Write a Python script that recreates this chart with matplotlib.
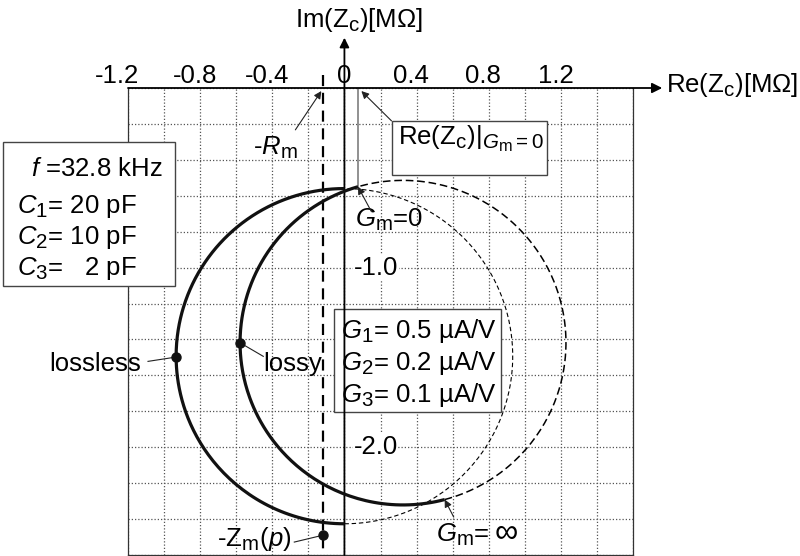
import numpy as np
import matplotlib
matplotlib.use("Agg")
import matplotlib.pyplot as plt
import matplotlib._mathtext as _mathtext
from matplotlib.patches import Rectangle
from matplotlib.ticker import MultipleLocator

plt.rcParams["font.family"] = ["Liberation Sans", "DejaVu Sans"]
plt.rcParams["mathtext.fontset"] = "custom"
plt.rcParams["mathtext.rm"] = "Liberation Sans"
plt.rcParams["mathtext.it"] = "Liberation Sans:italic"
plt.rcParams["mathtext.bf"] = "Liberation Sans:bold"
# slightly larger subscripts
_mathtext.SHRINK_FACTOR = 0.8

# Circuit parameters (pF, uA/V, kHz)
freq_khz = 32.8
C1, C2, C3 = 20.0, 10.0, 2.0
G1, G2, G3 = 0.5, 0.2, 0.1
Rm = 0.12            # motional resistance [MOhm]
Zm_imag = -2.49      # -Zm(p) imaginary part [MOhm]

x_tick_values = [-1.2, -0.8, -0.4, 0.0, 0.4, 0.8, 1.2]
x_tick_labels = ["-1.2", "-0.8", "-0.4", "0", "0.4", "0.8", "1.2"]
y_tick_values = [-1.0, -2.0]
y_tick_labels = ["-1.0", "-2.0"]

omega = 2 * np.pi * freq_khz * 1e3


def zc(gm, g1, g2, g3):
    """Impedance seen by the resonator [MOhm]; admittances in uS."""
    y1 = g1 + 1j * omega * C1 * 1e-6
    y2 = g2 + 1j * omega * C2 * 1e-6
    y3 = g3 + 1j * omega * C3 * 1e-6
    num = y1 + y2 + gm
    return num / (y1 * y2 + y3 * num)


def locus(g1, g2, g3):
    y3 = g3 + 1j * omega * C3 * 1e-6
    z_inf = 1 / y3
    th_pos = np.linspace(0, np.pi / 2, 600)[:-1]
    th_neg = np.linspace(-np.pi / 2, 0, 600)[1:]
    pos = np.append(zc(5.0 * np.tan(th_pos), g1, g2, g3), z_inf)
    neg = np.insert(zc(5.0 * np.tan(th_neg), g1, g2, g3), 0, z_inf)
    return pos, neg


lossless_pos, lossless_neg = locus(0.0, 0.0, 0.0)
lossy_pos, lossy_neg = locus(G1, G2, G3)

fig = plt.figure(figsize=(8, 5.56), dpi=100)
ax = fig.add_axes([128 / 800, 1 / 556, 505 / 800, 467 / 556])
ax.set_xlim(-1.2, 1.6)
ax.set_ylim(-2.6, 0)

ax.xaxis.set_major_locator(MultipleLocator(0.2))
ax.yaxis.set_major_locator(MultipleLocator(0.2))
ax.grid(True, linestyle=(0, (1, 1.6)), color="#555555", linewidth=0.9, zorder=0)
ax.tick_params(length=0, labelbottom=False, labelleft=False)
ax.spines["top"].set_visible(False)
for side in ("left", "right", "bottom"):
    ax.spines[side].set_color("#333333")
    ax.spines[side].set_linewidth(0.9)

# axes with arrows
ax.annotate("", xy=(1.762, 0), xytext=(-1.2, 0), annotation_clip=False,
            arrowprops=dict(arrowstyle="-|>", lw=1.3, color="black",
                            mutation_scale=15, shrinkA=0, shrinkB=0), zorder=5)
ax.annotate("", xy=(0, 0.28), xytext=(0, -2.6), annotation_clip=False,
            arrowprops=dict(arrowstyle="-|>", lw=1.3, color="black",
                            mutation_scale=14, shrinkA=0, shrinkB=0), zorder=5)

fs = 18.5
for xv, lab in zip(x_tick_values, x_tick_labels):
    shift = 0 if xv == 0 else (-0.06 if xv < -1 else -0.03)
    ax.text(xv + shift, 0.028, lab, ha="center", va="baseline", fontsize=fs)
for yv, lab in zip(y_tick_values, y_tick_labels):
    ax.text(0.05, yv, lab, ha="left", va="center", fontsize=fs, zorder=3,
            bbox=dict(facecolor="white", edgecolor="none", pad=0.5))

ax.text(1.783, -0.022, r"Re(Z$_\mathrm{c}$)[MΩ]", ha="left", va="baseline",
        fontsize=fs, clip_on=False)
ax.text(0.078, 0.339, r"Im(Z$_\mathrm{c}$)[MΩ]", ha="center", va="baseline",
        fontsize=fs, clip_on=False)

# -Rm line
ax.plot([-Rm, -Rm], [0.072, -2.6], color="black", lw=1.6,
        linestyle=(0, (5, 3)), clip_on=False, zorder=4)

# Re(Zc) at Gm = 0 marker line
z0 = lossy_pos[0]
ax.plot([z0.real, z0.real], [0, z0.imag], color="#888888", lw=1.3, zorder=4)

# loci
ax.plot(lossless_neg.real, lossless_neg.imag, color="black", lw=0.8,
        linestyle=(0, (4, 2.5)), zorder=4)
ax.plot(lossy_neg.real, lossy_neg.imag, color="black", lw=1.1,
        linestyle=(0, (5, 2.5)), zorder=4)
ax.plot(lossless_pos.real, lossless_pos.imag, color="#111111", lw=2.3,
        solid_capstyle="butt", zorder=5)
ax.plot(lossy_pos.real, lossy_pos.imag, color="#111111", lw=2.3,
        solid_capstyle="butt", zorder=5)

# marked points
p_lossless = lossless_pos[np.argmin(lossless_pos.real)]
p_lossy = lossy_pos[np.argmin(lossy_pos.real)]
p_zm = complex(-Rm, Zm_imag)
for p in (p_lossless, p_lossy, p_zm):
    ax.plot(p.real, p.imag, "o", color="#111111", ms=6.5, zorder=6)

line_kw = dict(color="#222222", lw=0.8)
ax.plot([-1.089, p_lossless.real], [-1.522, p_lossless.imag], clip_on=False, **line_kw)
ax.plot([-0.45, p_lossy.real], [-1.494, p_lossy.imag], **line_kw)
ax.plot([-0.278, p_zm.real], [-2.528, p_zm.imag], **line_kw)
ax.text(-1.128, -1.578, "lossless", ha="right", va="baseline", fontsize=fs, clip_on=False)
ax.text(-0.45, -1.578, "lossy", ha="left", va="baseline", fontsize=fs)
ax.text(-0.294, -2.55, r"-Z$_\mathrm{m}$($\mathit{p}$)", ha="right", va="baseline", fontsize=fs)

arrow_kw = dict(arrowstyle="-|>", lw=0.8, color="#222222", mutation_scale=11,
                shrinkA=0, shrinkB=0)
ax.annotate("", xy=(-0.128, -0.017), xytext=(-0.272, -0.233), arrowprops=arrow_kw)
ax.text(-0.506, -0.372, r"-$\mathit{R}_\mathrm{m}$", ha="left", va="baseline", fontsize=fs)

ax.annotate("", xy=(0.094, -0.017), xytext=(0.261, -0.183), arrowprops=arrow_kw)
ax.add_patch(Rectangle((0.261, -0.483), 1.122 - 0.261, 0.30, facecolor="white",
                       edgecolor="#444444", lw=1.0, zorder=3))
ax.text(0.295, -0.317, r"Re(Z$_\mathrm{c}$)|$_{\mathit{G}_\mathrm{m}\mathrm{=0}}$",
        ha="left", va="baseline", fontsize=fs, zorder=4)

ax.annotate("", xy=(z0.real, z0.imag), xytext=(0.15, -0.689), arrowprops=arrow_kw, zorder=6)
ax.text(0.061, -0.772, r"$\mathit{G}_\mathrm{m}$=0", ha="left", va="baseline", fontsize=fs)

z_inf = lossy_pos[-1]
ax.annotate("", xy=(z_inf.real, z_inf.imag), xytext=(0.606, -2.389), arrowprops=arrow_kw, zorder=6)
ax.text(0.506, -2.528, r"$\mathit{G}_\mathrm{m}$=", ha="left", va="baseline",
        fontsize=fs, zorder=6)
ax.text(0.835, -2.528, "∞", ha="left", va="baseline", fontsize=fs + 5, zorder=6)

# parameter boxes
ax.add_patch(Rectangle((-1.894, -1.10), 0.955, 0.80, facecolor="white",
                       edgecolor="#444444", lw=1.0, clip_on=False, zorder=3))
ax.text(-1.739, -0.489, r"$\mathit{f}$ =32.8 kHz", ha="left", va="baseline",
        fontsize=fs, zorder=4, clip_on=False)
for i, (c, v) in enumerate([(1, "20"), (2, "10"), (3, "  2")]):
    ax.text(-1.815, -0.694 - i * 0.173, rf"$\mathit{{C}}_{c}$= {v} pF", ha="left",
            va="baseline", fontsize=fs, zorder=4, clip_on=False)

ax.add_patch(Rectangle((-0.056, -1.806), 0.923, 0.578, facecolor="white",
                       edgecolor="#444444", lw=1.0, zorder=3))
for i, (g, v) in enumerate([(1, G1), (2, G2), (3, G3)]):
    ax.text(-0.017, -1.394 - i * 0.178, rf"$\mathit{{G}}_{g}$= {v} µA/V", ha="left",
            va="baseline", fontsize=fs, zorder=4)

fig.savefig("out.png", dpi=100)
